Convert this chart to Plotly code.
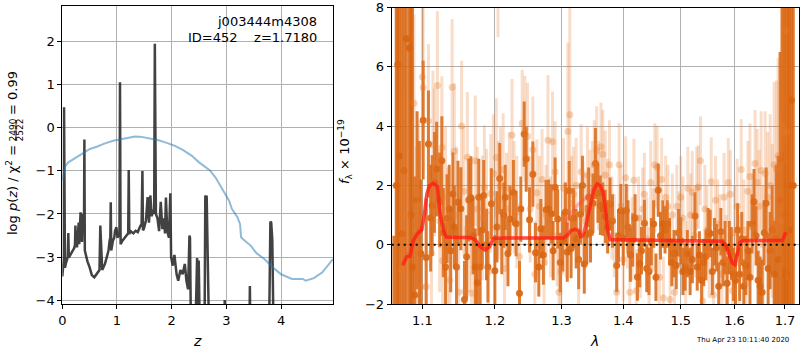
import plotly.graph_objects as go

# ---------------- left panel: redshift PDF ----------------
z_pdf = [0.000, 0.010, 0.020, 0.027, 0.032, 0.037, 0.049, 0.065, 0.085, 0.100, 0.110, 0.118,
         0.135, 0.160, 0.190, 0.215, 0.232, 0.240, 0.250, 0.270, 0.290, 0.300, 0.310, 0.325,
         0.334, 0.345, 0.360, 0.375, 0.388, 0.398, 0.404, 0.412, 0.430, 0.460, 0.500, 0.540,
         0.585, 0.625, 0.660, 0.680, 0.695, 0.730, 0.780, 0.820, 0.845, 0.865, 0.878, 0.886,
         0.895, 0.925, 0.950, 0.965, 0.990, 1.010, 1.045, 1.055, 1.066, 1.100, 1.150, 1.180,
         1.205, 1.215, 1.225, 1.250, 1.300, 1.340, 1.380, 1.420, 1.450, 1.465, 1.475, 1.490,
         1.530, 1.560, 1.585, 1.610, 1.635, 1.660, 1.680, 1.692, 1.700, 1.712, 1.740, 1.770,
         1.800, 1.830, 1.860, 1.878, 1.895, 1.920, 1.950, 1.975, 1.990, 2.020, 2.050, 2.090,
         2.120, 2.160, 2.200, 2.240, 2.270, 2.300, 2.325, 2.335, 2.350, 2.400, 2.440, 2.465,
         2.480, 2.495, 2.510, 2.525, 2.600, 2.615, 2.625, 2.640, 2.655, 2.700, 2.950, 2.970,
         2.990, 3.410, 3.430, 3.450, 3.770, 3.790, 3.805, 3.820, 3.840, 3.860, 3.880, 4.950]
logp = [-3.45, -3.30, -3.35, -3.05, 0.48, -3.10, -3.25, -3.15, -3.05, -3.00, -2.44, -2.95,
        -2.98, -2.90, -2.85, -2.80, -2.72, -2.27, -2.75, -2.75, -2.30, -2.20, -2.70, -2.35,
        -1.96, -2.15, -2.65, -2.00, -2.30, -1.95, -0.27, -2.85, -2.95, -3.10, -3.24, -3.42,
        -3.47, -3.40, -3.32, -3.30, -2.27, -3.30, -3.16, -2.93, -2.85, -2.62, -2.55, -1.73,
        -2.85, -2.62, -2.55, -2.39, -2.31, -2.55, -2.45, 1.06, -2.70, -2.62, -2.55, -2.50,
        -2.45, -0.98, -2.46, -2.40, -2.45, -2.39, -2.42, -2.30, -2.23, -1.00, -2.38, -2.35,
        -2.15, -1.61, -2.20, -1.57, -2.05, -1.90, -2.00, 1.95, -1.92, -2.00, -2.10, -2.40,
        -1.72, -2.35, -2.10, -2.45, -1.62, -2.40, -2.55, -1.52, -3.00, -3.20, -2.95, -3.40,
        -3.55, -3.30, -3.40, -3.16, -3.55, -3.75, -2.50, -2.55, -4.40, -4.60, -4.40, -3.02,
        -4.40, -3.08, -4.40, -5.00, -5.00, -1.57, -1.62, -1.58, -5.00, -6.00, -6.00, -4.00,
        -6.00, -6.00, -3.67, -6.00, -6.00, -2.60, -2.18, -2.20, -2.60, -4.50, -6.00, -6.00]

z_chi = [0.005, 0.050, 0.110, 0.200, 0.320, 0.410, 0.505, 0.630, 0.780, 0.930, 1.055, 1.210,
         1.330, 1.450, 1.600, 1.760, 1.910, 2.060, 2.210, 2.370, 2.490, 2.600, 2.700, 2.800,
         2.900, 3.000, 3.050, 3.100, 3.150, 3.200, 3.250, 3.270, 3.300, 3.450, 3.550, 3.700,
         3.850, 4.000, 4.200, 4.400, 4.450, 4.600, 4.750, 4.850, 4.950]
chi_scaled = [-1.22, -0.90, -0.80, -0.73, -0.62, -0.55, -0.49, -0.44, -0.36, -0.30, -0.27, -0.23,
              -0.20, -0.21, -0.25, -0.29, -0.35, -0.42, -0.52, -0.65, -0.79, -0.90, -0.99, -1.15,
              -1.38, -1.61, -1.69, -1.88, -1.98, -2.07, -2.23, -2.54, -2.58, -2.74, -2.91, -3.05,
              -3.24, -3.40, -3.51, -3.51, -3.55, -3.49, -3.36, -3.20, -3.05]

obj_name = "j003444m4308"
obj_id = 452
z_best = 1.7180

# ---------------- right panel: spectrum ----------------
# spectrum A (dark): wavelength [um], flux, 1-sigma
wave_a = [1.063, 1.066, 1.068, 1.070, 1.073, 1.076, 1.079, 1.083, 1.085, 1.087, 1.090, 1.093,
          1.096, 1.098, 1.101, 1.105, 1.108, 1.111, 1.113, 1.116, 1.119, 1.123, 1.126, 1.128,
          1.131, 1.133, 1.136, 1.138, 1.141, 1.143, 1.146, 1.148, 1.152, 1.157, 1.160, 1.163,
          1.166, 1.169, 1.172, 1.175, 1.177, 1.179, 1.182, 1.184, 1.188, 1.190, 1.195, 1.200,
          1.203, 1.207, 1.210, 1.213, 1.215, 1.219, 1.222, 1.227, 1.231, 1.236, 1.238, 1.243,
          1.246, 1.251, 1.256, 1.260, 1.265, 1.268, 1.272, 1.276, 1.280, 1.284, 1.287, 1.290,
          1.294, 1.298, 1.302, 1.306, 1.309, 1.312, 1.315, 1.319, 1.323, 1.327, 1.330, 1.333,
          1.336, 1.340, 1.343, 1.346, 1.350, 1.354, 1.358, 1.362, 1.366, 1.370, 1.374, 1.378,
          1.382, 1.389, 1.392, 1.396, 1.400, 1.405, 1.408, 1.412, 1.416, 1.420, 1.424, 1.428,
          1.431, 1.436, 1.440, 1.444, 1.448, 1.452, 1.456, 1.460, 1.464, 1.468, 1.472, 1.476,
          1.480, 1.484, 1.488, 1.492, 1.496, 1.500, 1.504, 1.508, 1.512, 1.517, 1.521, 1.526,
          1.530, 1.534, 1.538, 1.542, 1.546, 1.550, 1.554, 1.558, 1.562, 1.566, 1.570, 1.574,
          1.578, 1.582, 1.586, 1.590, 1.594, 1.598, 1.602, 1.606, 1.610, 1.614, 1.618, 1.622,
          1.626, 1.630, 1.634, 1.638, 1.642, 1.646, 1.650, 1.654, 1.658, 1.662, 1.666, 1.670,
          1.674, 1.678, 1.682, 1.686, 1.690, 1.694, 1.697, 1.700, 1.703, 1.706, 1.709, 1.713,
          1.717]
flux_a = [-4.70, 2.00, 6.08, 3.00, 0.37, 2.50, 6.95, 6.63, 1.00, -0.75, -1.70, 1.50,
          0.50, -0.30, 4.20, -0.43, 3.40, 0.90, 1.32, 2.10, 2.55, 1.51, 2.83, 0.40,
          -0.75, 0.88, 1.20, -0.20, 1.71, 0.60, -0.75, 1.43, 1.21, -1.85, -0.41, 1.51,
          1.58, 0.30, -0.75, -1.28, 1.60, -0.75, 0.50, 1.66, 0.00, -0.75, 1.38, -0.88,
          0.60, 2.23, 0.10, 1.00, 1.60, -0.30, 0.87, 1.76, 0.71, -1.64, 1.20, 3.73,
          2.89, 0.84, 2.38, -0.27, -0.75, 0.54, -0.35, 1.18, 1.20, 1.04, -0.20, 1.94,
          0.87, -0.60, 0.10, 1.10, -0.25, 1.82, -0.13, 0.90, 0.20, -0.50, 1.03, 2.00,
          -0.65, 0.34, 1.60, 0.40, 1.40, 2.74, 1.74, 1.33, 1.20, 0.95, 0.60, 1.37,
          0.80, -0.70, 0.30, 1.15, 0.20, 1.15, 0.60, -0.35, 0.16, 0.90, -1.09, -0.64,
          -0.20, 0.72, -0.80, -0.90, 0.10, 0.70, -1.10, 1.84, 0.30, 0.70, 0.50, 0.70,
          0.10, -0.60, -0.30, -0.70, 0.40, 0.13, -0.90, -0.75, -0.30, -0.90, -0.50, 0.97,
          -0.75, -0.35, -1.20, -0.60, -0.40, 0.44, 0.38, -0.90, 0.10, -0.10, -1.40, 0.44,
          -0.60, -0.10, -1.30, -0.10, -0.30, -1.00, -1.20, 0.50, -1.00, 0.20, -1.40, -0.70,
          -0.20, -1.10, 0.70, 1.45, 0.30, -1.20, -1.40, -1.60, 0.40, 1.40, -0.80, -0.20,
          0.50, -1.00, 0.20, -0.50, 1.50, 2.91, 3.00, 1.00, -1.00, 2.00, 0.50, 4.87,
          2.00]
err_a = [5.0, 12.0, 10.0, 12.0, 10.0, 12.0, 10.0, 10.0, 9.0, 9.0, 4.0, 3.0,
         3.0, 2.5, 2.0, 2.0, 1.8, 1.8, 1.7, 1.7, 1.6, 1.6, 1.5, 1.5,
         1.5, 1.5, 1.5, 1.4, 1.4, 1.4, 1.4, 1.4, 1.4, 1.3, 1.4, 1.4,
         1.4, 1.3, 1.3, 1.3, 1.3, 1.3, 1.2, 1.2, 1.2, 1.2, 1.2, 1.2,
         1.2, 1.2, 1.1, 1.1, 1.1, 1.1, 1.1, 1.1, 1.1, 1.1, 1.1, 1.1,
         1.1, 1.1, 1.1, 1.0, 1.0, 1.0, 1.0, 1.0, 1.0, 1.0, 1.0, 1.0,
         1.0, 1.0, 1.0, 1.0, 1.0, 1.0, 1.0, 1.0, 1.0, 1.0, 1.0, 1.0,
         1.0, 1.0, 1.0, 1.0, 1.0, 1.2, 1.0, 1.0, 0.9, 0.9, 0.9, 0.9,
         0.9, 0.9, 0.9, 0.9, 0.9, 0.9, 0.9, 0.9, 0.9, 0.8, 0.8, 0.8,
         0.8, 0.8, 0.8, 0.8, 0.8, 0.8, 0.8, 0.9, 0.8, 0.8, 0.8, 0.8,
         0.8, 0.8, 0.8, 0.8, 0.8, 0.8, 0.8, 0.8, 0.8, 0.8, 0.8, 0.8,
         0.8, 0.8, 0.8, 0.8, 0.8, 0.8, 0.8, 0.8, 0.8, 0.8, 0.8, 0.8,
         0.8, 0.9, 0.9, 0.9, 0.9, 0.9, 0.9, 0.9, 0.9, 0.9, 0.9, 1.0,
         1.0, 1.0, 1.0, 1.1, 1.0, 1.0, 1.0, 1.1, 1.1, 1.2, 1.2, 1.3,
         1.5, 1.8, 2.5, 3.5, 5.0, 6.0, 8.0, 10.0, 10.0, 10.0, 10.0, 10.0,
         10.0]

# spectrum B (pale): wavelength [um], flux, 1-sigma
wave_b = [1.072, 1.076, 1.080, 1.089, 1.092, 1.095, 1.098, 1.100, 1.101, 1.105, 1.108, 1.112,
          1.114, 1.116, 1.120, 1.123, 1.126, 1.127, 1.131, 1.134, 1.137, 1.140, 1.143, 1.146,
          1.149, 1.153, 1.156, 1.158, 1.161, 1.164, 1.167, 1.172, 1.175, 1.178, 1.182, 1.185,
          1.188, 1.191, 1.194, 1.198, 1.202, 1.2045, 1.205, 1.208, 1.212, 1.214, 1.217, 1.221,
          1.225, 1.228, 1.232, 1.236, 1.240, 1.244, 1.248, 1.252, 1.256, 1.259, 1.262, 1.266,
          1.270, 1.273, 1.276, 1.279, 1.283, 1.286, 1.290, 1.293, 1.296, 1.299, 1.303, 1.307,
          1.310, 1.313, 1.316, 1.319, 1.323, 1.327, 1.331, 1.334, 1.338, 1.341, 1.345, 1.349,
          1.352, 1.356, 1.359, 1.363, 1.366, 1.370, 1.374, 1.377, 1.381, 1.385, 1.389, 1.393,
          1.396, 1.400, 1.404, 1.407, 1.411, 1.415, 1.418, 1.422, 1.426, 1.429, 1.433, 1.436,
          1.440, 1.444, 1.447, 1.451, 1.454, 1.458, 1.462, 1.466, 1.469, 1.473, 1.477, 1.481,
          1.485, 1.489, 1.493, 1.497, 1.500, 1.504, 1.509, 1.513, 1.518, 1.521, 1.525, 1.529,
          1.532, 1.536, 1.540, 1.544, 1.548, 1.552, 1.556, 1.560, 1.564, 1.568, 1.572, 1.576,
          1.580, 1.584, 1.588, 1.592, 1.596, 1.600, 1.605, 1.609, 1.613, 1.618, 1.622, 1.626,
          1.630, 1.635, 1.640, 1.644, 1.648, 1.652, 1.656, 1.660, 1.665, 1.670, 1.674, 1.678,
          1.683, 1.686, 1.691, 1.694, 1.697, 1.701, 1.704]
flux_b = [-0.86, 2.00, 1.00, 4.77, 0.50, 1.37, -1.42, 5.66, 5.30, -1.42, 4.17, -0.28,
          3.37, 2.78, 5.37, 0.80, 3.28, -0.54, 1.60, 0.20, -1.20, 5.31, 3.15, 1.00,
          -1.60, 4.00, 1.80, -1.57, 2.95, 0.60, -1.64, 2.83, 1.20, -0.50, 0.90, 1.93,
          1.13, -0.90, 1.73, 2.40, 2.94, 8.60, 1.50, 1.97, 2.53, -0.80, 1.20, 1.90,
          3.69, 1.60, 1.10, -0.40, 4.10, 3.90, 3.66, 1.20, 3.20, -1.00, 1.75, 1.30,
          2.20, -0.60, 1.00, 3.52, 0.60, 3.47, 2.46, 0.30, -1.60, -0.90, 1.90, 0.50,
          3.82, 4.38, 1.40, 1.70, 2.00, -0.50, 2.46, 1.20, 0.80, 2.36, 1.60, 1.90,
          2.70, 3.17, 2.00, 3.30, 3.05, 2.35, 1.40, 2.70, 0.90, 0.30, -1.60, 2.70,
          1.30, -0.50, 2.26, 0.60, -1.60, 0.20, 2.17, -1.55, 0.90, -0.40, 1.20, 1.70,
          0.20, -0.80, 2.10, 0.50, 2.70, 2.61, -1.10, 2.20, -1.80, 1.60, 1.30, -1.85,
          1.00, -1.60, 1.30, 0.40, 1.60, 0.90, -0.60, 1.90, 1.00, 1.76, 0.30, 1.90,
          1.95, 2.83, -1.90, 1.20, 0.50, -0.30, 2.12, -1.70, 1.50, 0.70, 0.20, -1.00,
          1.60, -0.50, 2.10, 1.70, -1.55, 0.40, 1.30, -0.60, 2.54, 0.50, -1.30, 1.80,
          2.30, 0.60, 2.74, 2.10, 1.30, 2.50, 0.00, 2.40, 1.60, 2.00, 0.80, 2.70,
          2.54, 3.00, 0.80, 4.00, 3.75, 7.22, 3.80]
err_b = [3.5, 3.2, 3.0, 3.0, 2.8, 2.8, 2.8, 2.8, 2.8, 2.6, 2.6, 2.5,
         2.5, 2.5, 2.5, 2.4, 2.4, 2.4, 2.4, 2.4, 2.3, 2.3, 2.3, 2.3,
         2.3, 2.2, 2.2, 2.2, 2.2, 2.2, 2.2, 2.2, 2.1, 2.1, 2.1, 2.1,
         2.1, 2.0, 2.0, 2.0, 2.0, 1.6, 2.0, 2.0, 1.9, 1.9, 1.9, 1.9,
         1.9, 1.9, 1.9, 1.8, 1.8, 1.8, 1.8, 1.8, 1.8, 1.8, 1.8, 1.7,
         1.7, 1.7, 1.7, 2.2, 1.7, 1.7, 1.7, 1.7, 1.7, 1.7, 1.7, 1.6,
         3.0, 3.6, 1.6, 1.6, 1.6, 1.6, 1.6, 1.6, 1.6, 1.6, 1.6, 1.6,
         1.5, 1.5, 1.5, 1.5, 1.5, 1.5, 1.5, 1.5, 1.4, 1.4, 1.4, 1.4,
         1.4, 1.4, 1.4, 1.4, 1.4, 1.4, 1.4, 1.4, 1.4, 1.4, 1.4, 1.4,
         1.4, 1.4, 1.4, 1.4, 1.4, 1.4, 1.4, 1.4, 1.4, 1.4, 1.4, 1.4,
         1.4, 1.4, 1.4, 1.4, 1.4, 1.4, 1.4, 1.4, 1.4, 1.4, 1.4, 1.4,
         1.4, 1.5, 1.5, 1.5, 1.5, 1.5, 1.5, 1.5, 1.5, 1.5, 1.5, 1.5,
         1.5, 1.5, 1.5, 1.5, 1.6, 1.6, 1.6, 1.6, 1.7, 1.7, 1.7, 1.7,
         1.8, 1.8, 1.8, 1.8, 1.9, 2.0, 2.0, 2.1, 2.2, 2.4, 2.6, 2.8,
         3.0, 3.3, 3.6, 4.0, 4.5, 4.5, 5.0]

# best-fit models convolved to each spectrum
model_wave_a = [1.0744, 1.0796, 1.0838, 1.0881, 1.0934, 1.0991, 1.1027, 1.1059, 1.1093, 1.1146,
                1.1200, 1.1237, 1.1282, 1.1319, 1.1464, 1.1649, 1.1720, 1.1790, 1.1861, 1.1922,
                1.1980, 1.2125, 1.2521, 1.3033, 1.3095, 1.3149, 1.3217, 1.3270, 1.3308, 1.3350,
                1.3404, 1.3458, 1.3511, 1.3567, 1.3620, 1.3664, 1.3702, 1.3740, 1.3785, 1.3952,
                1.4697, 1.5299, 1.5766, 1.5829, 1.5892, 1.5958, 1.6008, 1.6054, 1.6103, 1.6182,
                1.6576, 1.6947, 1.7014]
model_flux_a = [-0.69, -0.41, -0.39, 0.14, 0.37, 0.50, 1.04, 1.71, 1.99, 2.07,
                1.96, 1.04, 0.48, 0.26, 0.24, 0.24, 0.17, -0.07, -0.18, -0.07,
                0.21, 0.23, 0.23, 0.23, 0.32, 0.48, 0.52, 0.48, 0.24, 0.37,
                0.82, 1.38, 1.83, 2.05, 1.99, 1.77, 1.26, 0.48, 0.17, 0.17,
                0.14, 0.12, 0.12, 0.00, -0.34, -0.62, -0.67, -0.34, 0.08, 0.14,
                0.14, 0.14, 0.42]
model_wave_b = [1.0744, 1.0796, 1.0838, 1.0881, 1.0934, 1.0991, 1.1027, 1.1059, 1.1093, 1.1146,
                1.1200, 1.1237, 1.1282, 1.1319, 1.1464, 1.1649, 1.1720, 1.1790, 1.1861, 1.1922,
                1.1980, 1.2125, 1.2521, 1.3033, 1.3075, 1.3105, 1.3244, 1.3350, 1.3458, 1.3540,
                1.3567, 1.3620, 1.3664, 1.3702, 1.3740, 1.3785, 1.3952, 1.4697, 1.5299, 1.5766,
                1.5829, 1.5892, 1.5958, 1.6008, 1.6054, 1.6103, 1.6182, 1.6576, 1.6947, 1.7014]
model_flux_b = [-0.60, -0.30, -0.36, 0.14, 0.37, 0.50, 1.04, 1.71, 1.99, 2.07,
                1.96, 1.04, 0.48, 0.26, 0.24, 0.24, 0.17, -0.07, -0.18, -0.07,
                0.21, 0.23, 0.23, 0.23, 0.50, 0.93, 1.32, 1.51, 1.71, 2.00,
                2.05, 1.99, 1.77, 1.26, 0.48, 0.17, 0.17, 0.14, 0.12, 0.12,
                0.00, -0.34, -0.62, -0.67, -0.34, 0.08, 0.14, 0.14, 0.14, 0.42]

wave_ticks = [1.1, 1.2, 1.3, 1.4, 1.5, 1.6, 1.7]
stamp = "Thu Apr 23 10:11:40 2020"

# ---------------- figure ----------------
W, H = 800, 350
FONT = "DejaVu Sans"
GRID = "#b0b0b0"
Y_DOM_L = [1 - 304 / H, 1 - 5.5 / H]
Y_DOM_R = [1 - 304 / H, 1 - 7.5 / H]

fig = go.Figure()

fig.add_trace(go.Scatter(x=z_pdf, y=logp, mode="lines", xaxis="x", yaxis="y",
                         line=dict(color="rgba(45,45,45,0.9)", width=2.5), showlegend=False))
fig.add_trace(go.Scatter(x=z_chi, y=chi_scaled, mode="lines", xaxis="x", yaxis="y",
                         line=dict(color="rgba(31,119,180,0.5)", width=2), showlegend=False))

fig.add_trace(go.Scatter(x=wave_a, y=flux_a, mode="markers", xaxis="x2", yaxis="y2",
                         marker=dict(size=7, color="rgba(215,100,15,0.9)", line=dict(width=0)),
                         error_y=dict(type="data", array=err_a, thickness=3, width=0,
                                      color="rgba(215,100,15,0.85)"),
                         showlegend=False))
fig.add_trace(go.Scatter(x=wave_b, y=flux_b, mode="markers", xaxis="x2", yaxis="y2",
                         marker=dict(size=7, color="rgba(232,125,45,0.33)", line=dict(width=0)),
                         error_y=dict(type="data", array=err_b, thickness=3, width=0,
                                      color="rgba(232,125,45,0.26)"),
                         showlegend=False))
fig.add_trace(go.Scatter(x=model_wave_b, y=model_flux_b, mode="lines", xaxis="x2", yaxis="y2",
                         line=dict(color="rgba(255,70,70,0.35)", width=3.5), showlegend=False))
fig.add_trace(go.Scatter(x=model_wave_a, y=model_flux_a, mode="lines", xaxis="x2", yaxis="y2",
                         line=dict(color="rgba(255,20,10,0.65)", width=3.5), showlegend=False))

axis_common = dict(showline=True, linecolor="black", linewidth=1, mirror=True,
                   ticks="outside", ticklen=4, tickwidth=1, tickcolor="black",
                   showgrid=True, gridcolor=GRID, gridwidth=1, zeroline=False,
                   automargin=False, ticklabeloverflow="allow",
                   tickfont=dict(family=FONT, size=13, color="black"))

fig.update_layout(
    template="none",
    width=W, height=H,
    margin=dict(l=0, r=0, t=0, b=0, autoexpand=False),
    paper_bgcolor="white", plot_bgcolor="white",
    font=dict(family=FONT, size=13, color="black"),
    xaxis=dict(domain=[62.3 / W, 333 / W], range=[0, 4.95], anchor="y",
               tickvals=[0, 1, 2, 3, 4], **axis_common),
    yaxis=dict(domain=Y_DOM_L, range=[-4.09, 2.84], anchor="x",
               tickvals=[-4, -3, -2, -1, 0, 1, 2],
               ticktext=["\u22124", "\u22123", "\u22122", "\u22121", "0", "1", "2"], **axis_common),
    xaxis2=dict(domain=[391.7 / W, 799.3 / W], type="log", range=[0.02539, 0.23791], anchor="y2",
                tickvals=wave_ticks, ticktext=[f"{v:.1f}" for v in wave_ticks], **axis_common),
    yaxis2=dict(domain=Y_DOM_R, range=[-2, 8], anchor="x2",
                tickvals=[-2, 0, 2, 4, 6, 8],
                ticktext=["\u22122", "0", "2", "4", "6", "8"], **axis_common),
)

# zero level of the spectrum
fig.add_shape(type="line", xref="x2 domain", yref="y2", x0=0, x1=1, y0=0, y1=0,
              line=dict(color="black", width=2, dash="2px,4px"), layer="above")


def px(x):
    return x / W


def py(y):
    return 1 - y / H


ann = []
ann.append(dict(text=obj_name, x=px(319), y=py(22), xanchor="right", yanchor="middle"))
ann.append(dict(text=f"ID={obj_id}\u00a0\u00a0\u00a0\u00a0z={z_best:.4f}",
                x=px(319), y=py(38), xanchor="right", yanchor="middle"))
# left y label, with a stacked fraction
ann.append(dict(text="log <i>p</i>(<i>z</i>) / \u03c7<sup>2</sup> =", textangle=-90,
                x=px(12), y=py(143), xanchor="center", yanchor="top"))
ann.append(dict(text="2490", textangle=-90, font=dict(size=9),
                x=px(12.5), y=py(130), xanchor="center", yanchor="middle"))
ann.append(dict(text="2522", textangle=-90, font=dict(size=9),
                x=px(19.5), y=py(130), xanchor="center", yanchor="middle"))
ann.append(dict(text="= 0.99", textangle=-90,
                x=px(12), y=py(117), xanchor="center", yanchor="bottom"))
ann.append(dict(text="<i>z</i>", x=px(197), y=py(341), xanchor="center", yanchor="middle",
                font=dict(size=14)))
ann.append(dict(text="<i>f</i><sub>\u03bb</sub> \u00d7 10<sup>\u221219</sup>", textangle=-90,
                x=px(345), y=py(152), xanchor="center", yanchor="middle"))
ann.append(dict(text="<i>\u03bb</i>", x=px(594), y=py(341), xanchor="center", yanchor="middle",
                font=dict(size=14)))
ann.append(dict(text=stamp, x=px(742), y=py(340), xanchor="center", yanchor="middle",
                font=dict(size=7)))
for a in ann:
    a.update(xref="paper", yref="paper", showarrow=False)
    a.setdefault("font", dict(size=13))
    a["font"] = dict(family=FONT, color="black", **a["font"])
fig.update_layout(annotations=ann)

# fraction bar
fig.add_shape(type="line", xref="paper", yref="paper",
              x0=px(16), x1=px(16), y0=py(120), y1=py(141),
              line=dict(color="black", width=0.8))

fig.write_html("out.html")
